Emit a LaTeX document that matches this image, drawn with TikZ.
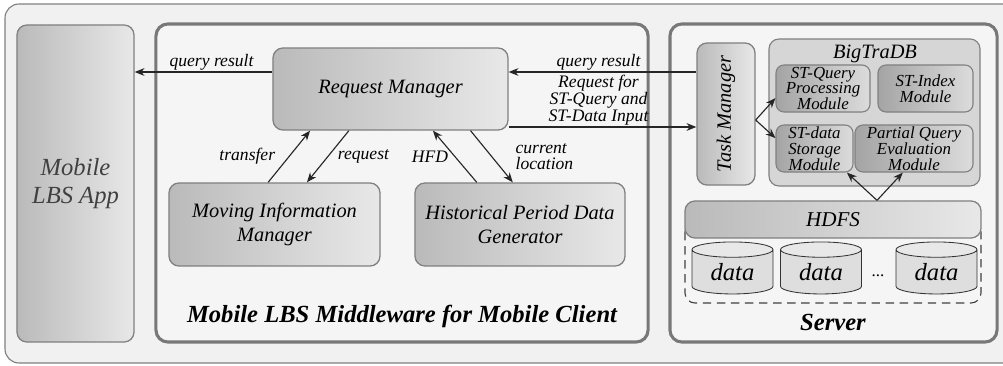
\documentclass[tikz,border=0pt]{standalone}
\usepackage{fontspec}
\setmainfont{Liberation Serif}
\usepackage{tikz}
\usetikzlibrary{arrows.meta,positioning,shapes.geometric,calc}
\usepackage{xcolor}
\definecolor{framegray}{RGB}{128,128,128}
\definecolor{panelgray}{RGB}{120,120,120}
\definecolor{backgray}{RGB}{241,241,241}
\definecolor{panelfill}{RGB}{245,245,245}
\definecolor{boxdark}{RGB}{186,186,186}
\definecolor{boxlight}{RGB}{232,232,232}
\definecolor{moddark}{RGB}{164,164,164}
\definecolor{modlight}{RGB}{220,220,220}
\definecolor{dbfill}{RGB}{214,214,214}
\definecolor{cylbody}{RGB}{222,222,222}
\definecolor{cylend}{RGB}{232,232,232}
\tikzset{
  panel/.style={draw=panelgray,line width=2.2pt,rounded corners=3mm,fill=panelfill},
  lbsbox/.style={draw=framegray,line width=0.9pt,rounded corners=2.5mm,left color=boxdark,right color=boxlight,
    align=center,inner sep=1pt,font=\fontsize{14.5}{16.5}\selectfont\itshape},
  lbsmod/.style={draw=framegray,line width=0.8pt,rounded corners=2mm,left color=moddark,right color=modlight,
    align=center,inner sep=1pt,font=\fontsize{12}{11.2}\selectfont\itshape,
    minimum height=1.175cm},
  datacyl/.style={cylinder,shape border rotate=90,draw=black!80,line width=0.6pt,aspect=0.35,
    cylinder uses custom fill,cylinder body fill=cylbody,cylinder end fill=cylend,
    minimum width=2.025cm,minimum height=1.3cm,inner sep=0pt,font=\fontsize{17.5}{19}\selectfont\itshape},
  flow/.style={-{Stealth[length=7pt,width=5.5pt]},line width=0.8pt,draw=black!85},
  edgelabel/.style={font=\fontsize{12.5}{11.5}\selectfont\itshape,inner sep=1pt,align=center},
  paneltitle/.style={font=\fontsize{17.5}{19}\selectfont\bfseries\itshape}
}

\begin{document}
\begin{tikzpicture}[x=0.025cm,y=-0.025cm]
  \useasboundingbox (0,0) rectangle (1003,366);
  % background frame
  \draw[draw=framegray,line width=0.8pt,rounded corners=3.5mm,fill=backgray] (5,4) rectangle (1020,363);

  % mobile client side
  \node[lbsbox,minimum width=2.925cm,minimum height=7.925cm,font=\fontsize{17.5}{20}\selectfont\itshape,
    text=black!75] (app) at (75.5,183.5) {Mobile\\LBS App};
  \node[panel,minimum width=12.3cm,minimum height=7.95cm] (mid) at (402,183) {};
  \node[paneltitle] (midtitle) at (402,316) {Mobile LBS Middleware for Mobile Client};
  \node[lbsbox,minimum width=5.875cm,minimum height=2.05cm] (reqmgr) at (390.5,89) {Request Manager};
  \node[lbsbox,minimum width=5.275cm,minimum height=2.075cm] (movinfo) at (274.5,224.5) {Moving Information\\Manager};
  \node[lbsbox,minimum width=5.25cm,minimum height=2.075cm] (histgen) at (520,224.5) {Historical Period Data\\Generator};

  % server side
  \node[panel,minimum width=8.175cm,minimum height=7.95cm] (server) at (833.5,183) {};
  \node[paneltitle] (servertitle) at (833,322) {Server};
  \node[lbsbox,rotate=90,minimum width=3.55cm,minimum height=1.45cm] (taskmgr) at (726,114) {Task Manager};
  \node[draw=framegray,line width=0.8pt,rounded corners=2.5mm,fill=dbfill,minimum width=5.275cm,
    minimum height=3.675cm] (bigtra) at (874.5,112.5) {};
  \node[font=\fontsize{14.5}{16}\selectfont\itshape] (bigtitle) at (875,54) {BigTraDB};
  \node[lbsmod,minimum width=2.35cm] (stq) at (823,88.5) {ST-Query\\Processing\\Module};
  \node[lbsmod,minimum width=2.375cm] (sti) at (925.5,88.5) {ST-Index\\Module};
  \node[lbsmod,minimum width=1.925cm] (std) at (814.5,148.5) {ST-data\\Storage\\Module};
  \node[lbsmod,minimum width=2.95cm] (pqe) at (914,148.5) {Partial Query\\Evaluation\\Module};

  \draw[draw=black!75,line width=0.8pt,dashed,dash pattern=on 6pt off 4pt,rounded corners=2.5mm] (685,222) rectangle (981,303);
  \node[lbsbox,minimum width=7.4cm,minimum height=0.925cm,font=\fontsize{15}{16}\selectfont\itshape] (hdfs) at (833,219.5) {HDFS};
  \node[datacyl] (data1) at (732.5,272) {data};
  \node[datacyl] (data2) at (821,272) {data};
  \node[datacyl] (data3) at (936.5,272) {data};
  \node[font=\fontsize{12}{12}\selectfont] (dots) at (878,276) {...};

  % request / result flow
  \draw[flow] (reqmgr.west |- 0,72) -- node[edgelabel,above,xshift=0.2cm]{query result} (app.east |- 0,72);
  \draw[flow] (taskmgr.north |- 0,72) -- node[edgelabel,above,xshift=-0.1cm]{query result} (reqmgr.east |- 0,72);
  \draw[flow] (reqmgr.east |- 0,127) -- node[edgelabel,above,xshift=-0.1cm,font=\fontsize{12.5}{10.8}\selectfont\itshape]{Request for\\ST-Query and\\ST-Data Input} (taskmgr.north |- 0,127);
  \draw[flow] ([xshift=-0.16cm]movinfo.north) -- node[edgelabel,left=0.3cm]{transfer} ([xshift=-2.01cm]reqmgr.south);
  \draw[flow] ([xshift=-1.04cm]reqmgr.south) -- node[edgelabel,right=0.2cm]{request} ([xshift=0.81cm]movinfo.north);
  \draw[flow] ([xshift=-1.08cm]histgen.north) -- node[edgelabel,left=0.12cm]{HFD} ([xshift=1.06cm]reqmgr.south);
  \draw[flow] ([xshift=2cm]reqmgr.south) -- node[edgelabel,right=0.55cm,align=left]{current\\location} ([xshift=-0.18cm]histgen.north);

  % inside the server
  \coordinate (taskfork) at ($(taskmgr.south)+(0,6)$);
  \draw[flow] (taskfork) -- ([yshift=-0.24cm]stq.west);
  \draw[flow] (taskfork) -- ([yshift=0.26cm]std.west);
  \coordinate (hdfsfork) at ([xshift=1.1cm]hdfs.north);
  \draw[flow] (hdfsfork) -- ([xshift=0.81cm]std.south);
  \draw[flow] (hdfsfork) -- ([xshift=-0.28cm]pqe.south);
\end{tikzpicture}
\end{document}
